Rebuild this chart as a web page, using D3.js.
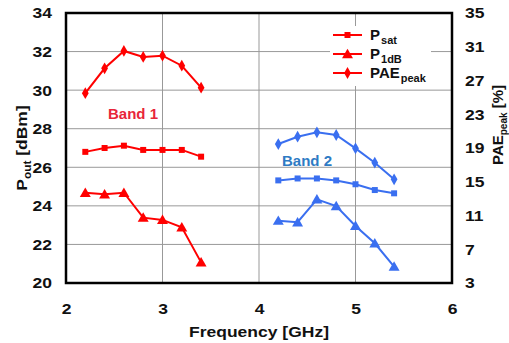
<!DOCTYPE html>
<html>
<head>
<meta charset="UTF-8">
<style>
  body { margin: 0; background: #fff; }
  text { font-family: "Liberation Sans", Arial, sans-serif; font-weight: bold; }
</style>
</head>
<body>
<div id="chart"></div>
<script src="https://cdn.jsdelivr.net/npm/d3@7/dist/d3.min.js"></script>
<script>
var band1Freq = [2.2, 2.4, 2.6, 2.8, 3.0, 3.2, 3.4];
var band2Freq = [4.2, 4.4, 4.6, 4.8, 5.0, 5.2, 5.4];

var band1Psat = [26.8, 27.0, 27.12, 26.9, 26.9, 26.9, 26.55];
var band1P1dB = [24.68, 24.6, 24.68, 23.39, 23.27, 22.89, 21.07];
var band1PAE  = [25.5, 28.45, 30.5, 29.8, 29.94, 28.75, 26.15];

var band2Psat = [25.32, 25.42, 25.42, 25.32, 25.12, 24.82, 24.65];
var band2P1dB = [23.23, 23.15, 24.34, 23.99, 22.96, 22.06, 20.85];
var band2PAE  = [19.47, 20.34, 20.86, 20.54, 18.96, 17.26, 15.29];

var xTicks = [2, 3, 4, 5, 6];
var leftTicks = [20, 22, 24, 26, 28, 30, 32, 34];
var rightTicks = [3, 7, 11, 15, 19, 23, 27, 31, 35];

var red = "#ff0000", blue = "#3a6ff0";
var k = 1.13; // reference text looks stretched sideways

var width = 509, height = 343,
    margin = {top: 13, right: 57, bottom: 60, left: 66};
var w = width - margin.left - margin.right,
    h = height - margin.top - margin.bottom;

var svg = d3.select("#chart").append("svg")
    .attr("width", width).attr("height", height);
var g = svg.append("g")
    .attr("transform", "translate(" + margin.left + "," + margin.top + ")");

var x = d3.scaleLinear().domain([2, 6]).range([0, w]);
var yL = d3.scaleLinear().domain([20, 34]).range([h, 0]);
var yR = d3.scaleLinear().domain([3, 35]).range([h, 0]);

// grid
g.selectAll(".vgrid").data(xTicks.slice(1, -1)).enter().append("line")
    .attr("x1", function(d) { return x(d); }).attr("x2", function(d) { return x(d); })
    .attr("y1", 0).attr("y2", h)
    .attr("stroke", "#999").attr("stroke-width", 1);
g.selectAll(".hgrid").data(leftTicks.slice(1, -1)).enter().append("line")
    .attr("y1", function(d) { return yL(d); }).attr("y2", function(d) { return yL(d); })
    .attr("x1", 0).attr("x2", w)
    .attr("stroke", "#999").attr("stroke-width", 1);

// axes (labels only)
var xAxis = g.append("g").attr("transform", "translate(0," + h + ")")
    .call(d3.axisBottom(x).tickValues(xTicks).tickSize(0).tickPadding(20).tickFormat(d3.format("d")));
var lAxis = g.append("g")
    .call(d3.axisLeft(yL).tickValues(leftTicks).tickSize(0).tickPadding(14));
var rAxis = g.append("g").attr("transform", "translate(" + w + ",0)")
    .call(d3.axisRight(yR).tickValues(rightTicks).tickSize(0).tickPadding(13));
[xAxis, lAxis, rAxis].forEach(function(a) {
  a.select(".domain").remove();
  a.selectAll("text").attr("font-size", 15.5).attr("fill", "#111")
   .attr("font-family", "Liberation Sans, Arial, sans-serif").attr("font-weight", "bold")
   .attr("transform", "scale(" + k + ",1)");
});
lAxis.selectAll("text").attr("x", -14 / k);
rAxis.selectAll("text").attr("x", 13 / k);

// legend box
var legX = 330 - margin.left, legY = 26 - margin.top;
g.append("rect").attr("x", legX).attr("y", legY).attr("width", 101).attr("height", 60)
    .attr("fill", "#fff");

var shapes = {
  square: d3.symbol().type(d3.symbolSquare).size(36),
  triangle: d3.symbol().type(d3.symbolTriangle).size(52),
  diamond: d3.symbol().type(d3.symbolDiamond).size(40)
};

function drawSeries(freqs, vals, scale, color, shape) {
  var pts = freqs.map(function(f, i) { return [x(f), scale(vals[i])]; });
  g.append("path").datum(pts)
      .attr("d", d3.line())
      .attr("fill", "none").attr("stroke", color).attr("stroke-width", 2);
  g.selectAll(null).data(pts).enter().append("path")
      .attr("d", shapes[shape])
      .attr("transform", function(d) { return "translate(" + d[0] + "," + (d[1] + (shape === "triangle" ? 1 : 0)) + ")"; })
      .attr("fill", color);
}

drawSeries(band1Freq, band1PAE, yR, red, "diamond");
drawSeries(band1Freq, band1Psat, yL, red, "square");
drawSeries(band1Freq, band1P1dB, yL, red, "triangle");
drawSeries(band2Freq, band2PAE, yR, blue, "diamond");
drawSeries(band2Freq, band2Psat, yL, blue, "square");
drawSeries(band2Freq, band2P1dB, yL, blue, "triangle");

// frame
g.append("rect").attr("x", 0).attr("y", 0).attr("width", w).attr("height", h)
    .attr("fill", "none").attr("stroke", "#000").attr("stroke-width", 2.5);

// legend entries
var legend = [
  {main: "P", sub: "sat", shape: "square"},
  {main: "P", sub: "1dB", shape: "triangle"},
  {main: "PAE", sub: "peak", shape: "diamond"}
];
legend.forEach(function(d, i) {
  var cy = 35 + i * 19 - margin.top;
  var lx = 333 - margin.left;
  g.append("line").attr("x1", lx).attr("x2", lx + 29).attr("y1", cy).attr("y2", cy)
      .attr("stroke", red).attr("stroke-width", 2);
  g.append("path").attr("d", shapes[d.shape])
      .attr("transform", "translate(" + (lx + 14.5) + "," + (cy + (d.shape === "triangle" ? 1 : 0)) + ")")
      .attr("fill", red);
  var t = g.append("text").attr("x", lx + 37).attr("y", cy + 5).attr("font-size", 15).attr("fill", "#111");
  t.append("tspan").text(d.main);
  t.append("tspan").attr("font-size", 11).attr("dy", 4).attr("dx", 1).text(d.sub);
});

// band labels
g.append("text").attr("x", 133 - margin.left).attr("y", 119 - margin.top)
    .attr("text-anchor", "middle").attr("font-size", 15).attr("fill", "#e8253a").text("Band 1");
g.append("text").attr("x", 307 - margin.left).attr("y", 166 - margin.top)
    .attr("text-anchor", "middle").attr("font-size", 15).attr("fill", "#2e7bc4").text("Band 2");

// axis titles
svg.append("text").attr("text-anchor", "middle")
    .attr("font-size", 15.5).attr("fill", "#111")
    .attr("transform", "translate(259,337) scale(" + k + ",1)")
    .text("Frequency [GHz]");

var lt = svg.append("text").attr("text-anchor", "middle").attr("font-size", 15.5).attr("fill", "#111")
    .attr("transform", "translate(27,148) rotate(-90) scale(" + k + ",1)");
lt.append("tspan").text("P");
lt.append("tspan").attr("font-size", 10.5).attr("dy", 4).text("out");
lt.append("tspan").attr("dy", -4).text(" [dBm]");

var rt = svg.append("text").attr("text-anchor", "middle").attr("font-size", 15).attr("fill", "#111")
    .attr("transform", "translate(503,125) rotate(-90)");
rt.append("tspan").text("PAE");
rt.append("tspan").attr("font-size", 10).attr("dy", 4).text("peak");
rt.append("tspan").attr("dy", -4).text(" [%]");
</script>
</body>
</html>
